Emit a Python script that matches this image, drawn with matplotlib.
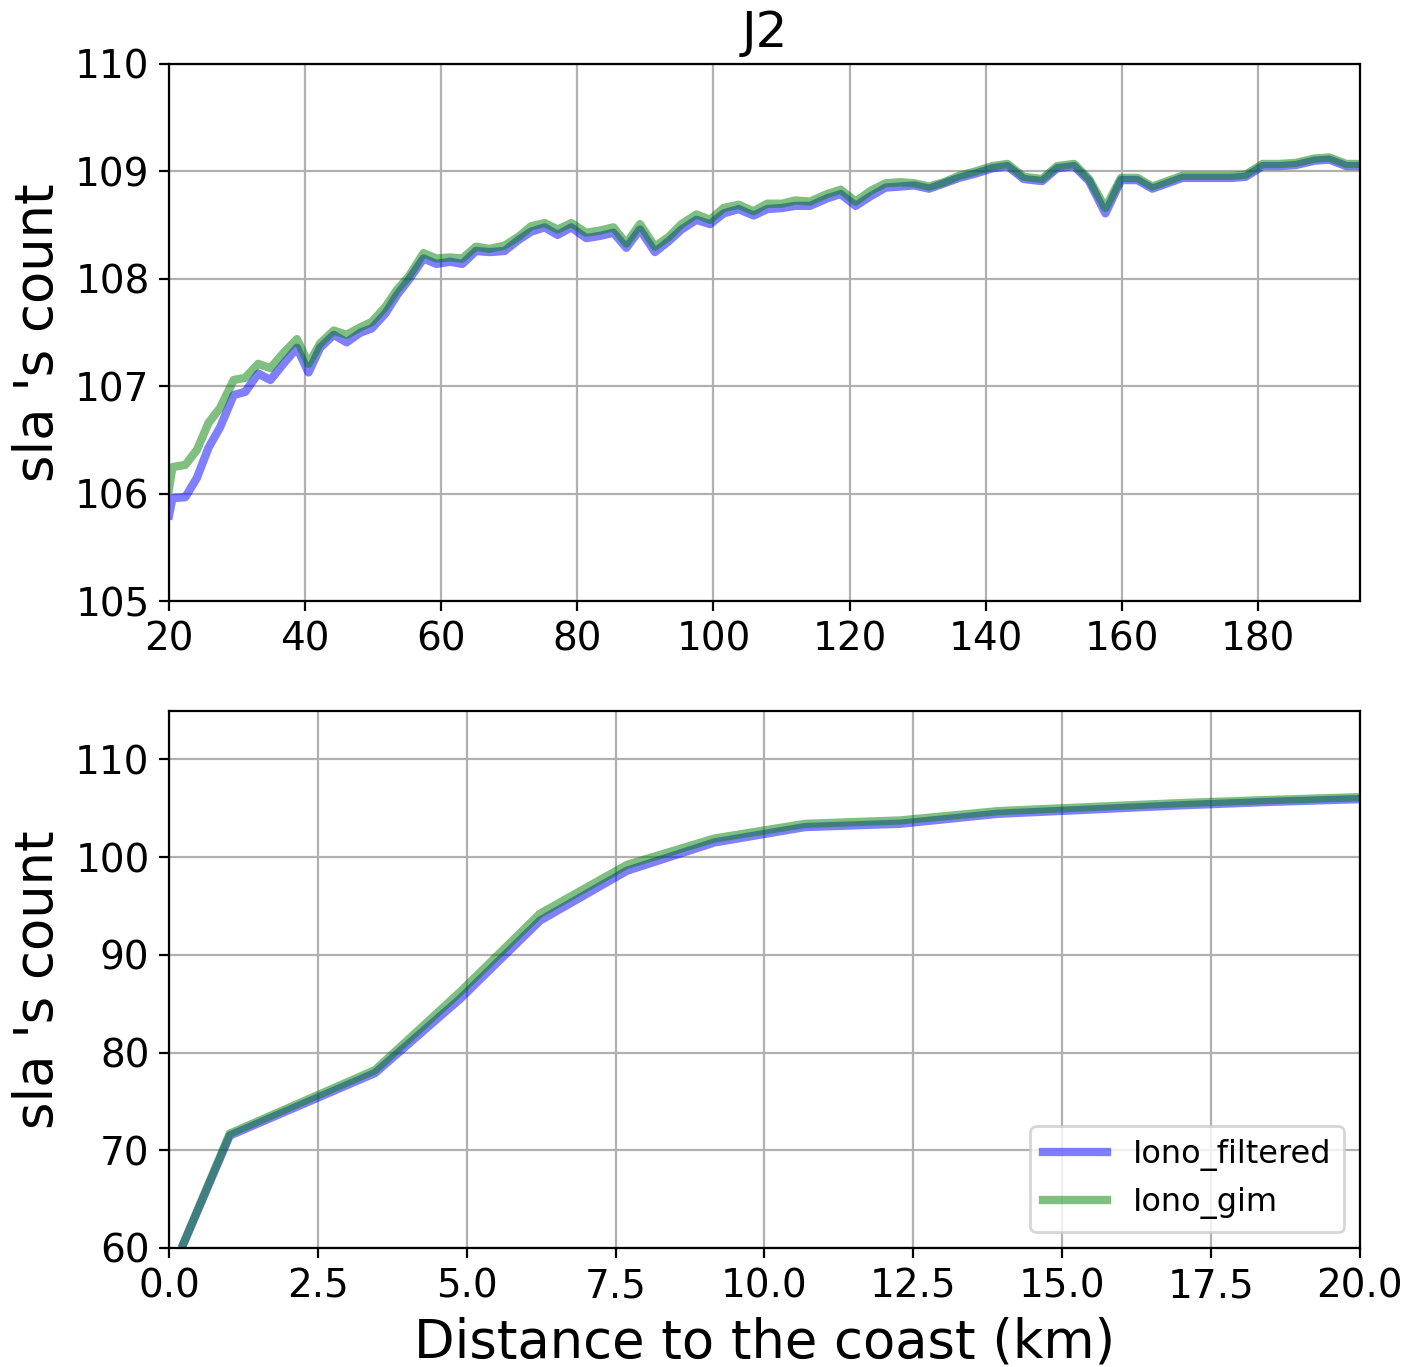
#!/usr/bin/env python3
"""J2 sla count vs distance to coast: far range (top) and near range (bottom)."""

import matplotlib
matplotlib.use("Agg")
import matplotlib.pyplot as plt

# far from coast (top panel), km
dist_far = [20.0, 20.5, 22.4, 24.1, 25.8, 27.5, 29.5, 31.2, 33.1, 34.9, 36.8,
            38.8, 40.5, 42.2, 44.2, 46.1, 48.1, 49.8, 51.8, 53.5, 55.2, 57.4,
            59.3, 61.3, 63.1, 65.1, 67.1, 69.3, 71.3, 73.2, 75.2, 77.1, 79.1,
            81.3, 83.3, 85.3, 87.2, 89.2, 91.4, 93.4, 95.3, 97.5, 99.5, 101.5,
            103.7, 105.9, 107.9, 110.1, 112.0, 114.2, 116.7, 118.7, 120.9,
            123.1, 125.3, 127.5, 129.5, 131.7, 133.9, 136.1, 138.5, 141.0,
            143.2, 145.6, 148.3, 150.5, 153.0, 155.2, 157.6, 159.9, 162.3,
            164.5, 166.7, 168.9, 171.4, 173.8, 176.0, 178.2, 180.7, 183.2,
            185.6, 188.3, 190.5, 193.0, 195.0]
gim_far = [106.05, 106.25, 106.27, 106.41, 106.66, 106.80, 107.06, 107.08,
           107.21, 107.17, 107.31, 107.44, 107.21, 107.40, 107.52, 107.48,
           107.55, 107.60, 107.74, 107.90, 108.02, 108.24, 108.19, 108.20,
           108.19, 108.30, 108.28, 108.31, 108.39, 108.49, 108.52, 108.46,
           108.52, 108.43, 108.45, 108.48, 108.33, 108.51, 108.30, 108.39,
           108.51, 108.60, 108.55, 108.66, 108.69, 108.63, 108.70, 108.70,
           108.73, 108.72, 108.79, 108.83, 108.72, 108.82, 108.89, 108.90,
           108.89, 108.86, 108.90, 108.96, 109.00, 109.05, 109.07, 108.95,
           108.93, 109.05, 109.07, 108.93, 108.66, 108.94, 108.94, 108.86,
           108.91, 108.96, 108.96, 108.96, 108.96, 108.97, 109.07, 109.07,
           109.08, 109.12, 109.13, 109.07, 109.07]
filt_far = [105.80, 105.96, 105.97, 106.15, 106.43, 106.62, 106.92, 106.95,
            107.12, 107.06, 107.21, 107.36, 107.13, 107.36, 107.48, 107.41,
            107.50, 107.54, 107.68, 107.85, 107.99, 108.19, 108.14, 108.16,
            108.14, 108.26, 108.25, 108.26, 108.36, 108.44, 108.48, 108.41,
            108.48, 108.38, 108.40, 108.43, 108.29, 108.46, 108.25, 108.35,
            108.46, 108.55, 108.51, 108.61, 108.65, 108.59, 108.65, 108.66,
            108.68, 108.68, 108.75, 108.79, 108.68, 108.77, 108.85, 108.86,
            108.87, 108.84, 108.89, 108.94, 108.98, 109.03, 109.05, 108.93,
            108.91, 109.03, 109.05, 108.91, 108.61, 108.92, 108.92, 108.84,
            108.89, 108.94, 108.94, 108.94, 108.94, 108.95, 109.05, 109.05,
            109.06, 109.10, 109.11, 109.05, 109.05]

# near coast (bottom panel), km
dist_near = [0.24, 1.02, 3.46, 4.89, 6.23, 7.69, 9.16, 10.68, 12.28, 13.92,
             15.5, 17.0, 18.5, 20.0]
gim_near = [60.4, 71.7, 78.2, 86.2, 94.2, 99.2, 101.9, 103.4, 103.75, 104.7,
            105.13, 105.53, 105.85, 106.13]
filt_near = [60.4, 71.5, 77.9, 85.5, 93.5, 98.6, 101.5, 103.07, 103.41, 104.43,
             104.87, 105.30, 105.65, 105.93]

TICK_FS = 14
LABEL_FS = 19

fig, (ax1, ax2) = plt.subplots(2, 1, figsize=(7.12, 6.835))
fig.subplots_adjust(left=0.1187, right=0.955, top=0.9532, bottom=0.0871,
                    hspace=0.203)

ax1.plot(dist_far, filt_far, color="blue", alpha=0.5, lw=3, label="Iono_filtered")
ax1.plot(dist_far, gim_far, color="green", alpha=0.5, lw=3, label="Iono_gim")
ax1.set_xlim(20, 195)
ax1.set_ylim(105, 110)
ax1.set_title("J2", fontsize=18, pad=6)
ax1.set_ylabel("sla 's count", fontsize=LABEL_FS)
ax1.grid(True)
ax1.tick_params(labelsize=TICK_FS)

ax2.plot(dist_near, filt_near, color="blue", alpha=0.5, lw=3, label="Iono_filtered")
ax2.plot(dist_near, gim_near, color="green", alpha=0.5, lw=3, label="Iono_gim")
ax2.set_xlim(0, 20)
ax2.set_ylim(60, 115)
ax2.set_xlabel("Distance to the coast (km)", fontsize=LABEL_FS)
ax2.set_ylabel("sla 's count", fontsize=LABEL_FS)
ax2.grid(True)
ax2.tick_params(labelsize=TICK_FS)
ax2.legend(loc="lower right", fontsize=11.5)

fig.savefig("out.png", dpi=200)
plt.close(fig)
